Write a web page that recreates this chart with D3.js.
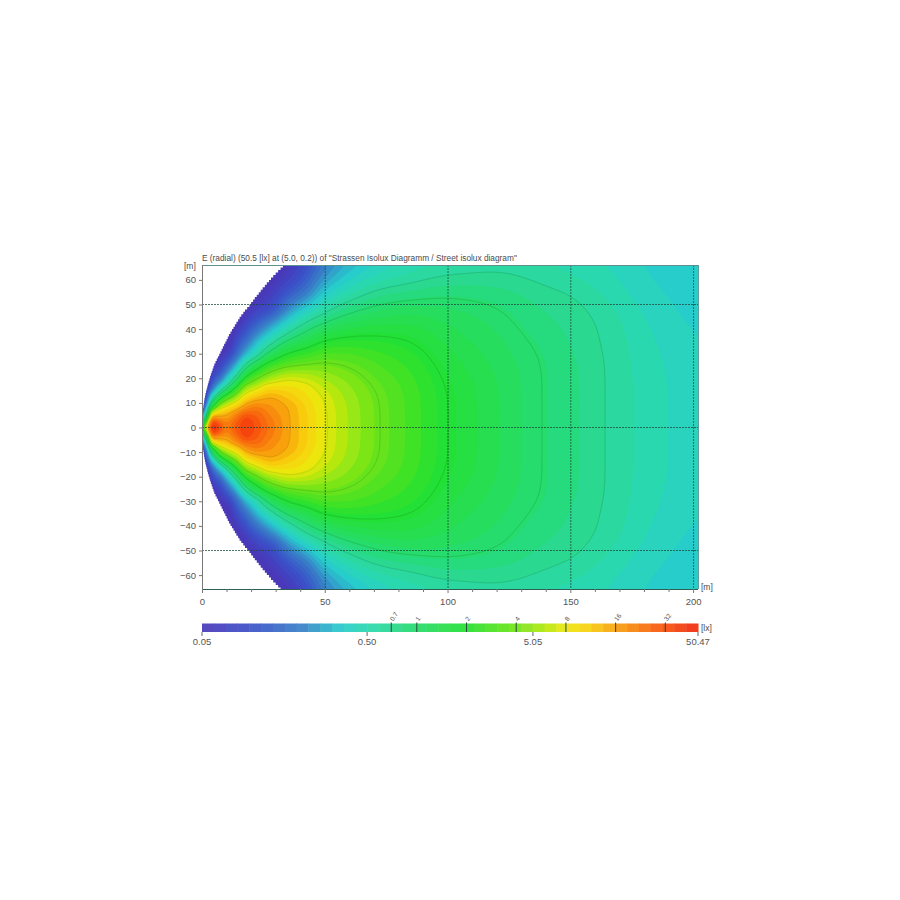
<!DOCTYPE html>
<html><head><meta charset="utf-8">
<script src="https://cdn.jsdelivr.net/npm/d3@7"></script>
<style>html,body{margin:0;background:#fff}svg{display:block}text{font-family:"Liberation Sans",Arial,sans-serif;fill:#4a4a4a}</style>
</head><body><svg id="c" width="900" height="900"></svg>
<script>
const titleText = 'E (radial) (50.5 [lx] at (5.0, 0.2)) of "Strassen Isolux Diagramm / Street isolux diagram"';
const xTicks = [0,50,100,150,200];
const xMinorTicks = [10,20,30,40,60,70,80,90,110,120,130,140,160,170,180,190];
const yTicks = [60,50,40,30,20,10,0,-10,-20,-30,-40,-50,-60];
const gridX = [50,100,150,200];
const gridY = [50,0,-50];
const barLabels = [0.05,0.50,5.05,50.47];
const isoLevels = [0.7,1,2,4,8,16];
const isoBarLevels = [0.7,1,2,4,8,16,32];
const colorLux = [0.05,0.1,0.2,0.35,0.5,0.7,1,2,4,5.5,8,11,16,32,50.47];
const colorHex = ['#4a38b8','#3a50c8','#3880c8','#28cccc','#2ad8b0','#2ad890','#26dc68','#24e030','#70e418','#a8e810','#ece810','#f8d010','#f8a010','#f85010','#ee2808'];

// lit-area edge: first lit distance (m), one value per metre of |y| from 0
const edgeX = [0,0,0,0,0,.1,.2,.3,.4,.55,.7,.85,1,1.2,1.4,1.65,1.9,2.15,2.4,2.7,3,3.3,3.6,3.95,4.3,4.65,5,5.5,6,6.5,7,7.5,8,8.5,9,9.5,10,10.5,11,11.6,12.2,12.8,13.4,14,14.7,15.3,16,16.8,17.5,18.4,19.3,20,20.8,21.5,22.3,23.1,23.9,24.7,25.6,26.4,27.3,28.1,29,30,31,32,33];

// illuminance [lx], one list per distance, values at |y| = stationsY
const stationsY = [0,2,4,6,9,12,16,20,25,30,36,42,48,54,60,66];
const stationsX = [0,2,4,5,7,10,14,18,22,28,36,43,50,60,72,85,100,120,138,150,165,180,202];
const luxByX = [
[1.5,.7,.3,.15,.06,.04,.03,.03,.03,.03,.03,.03,.03,.03,.03,.03],
[12,5,1.5,.7,.3,.15,.07,.04,.03,.03,.03,.03,.03,.03,.03,.03],
[45,35,18,8,1.4,.6,.18,.09,.05,.03,.03,.03,.03,.03,.03,.03],
[50,40,20,9.5,2,.8,.25,.12,.06,.035,.03,.03,.03,.03,.03,.03],
[38,30,18,12,4.6,1.6,.45,.17,.08,.05,.03,.03,.03,.03,.03,.03],
[24,22,18,14,7.5,3.2,.9,.36,.15,.07,.035,.03,.03,.03,.03,.03],
[33,31,26,20,11,6,2.3,.9,.35,.16,.09,.05,.03,.03,.03,.03],
[42,41,37,28,17.5,11,5.5,2.3,.85,.33,.16,.09,.05,.03,.03,.03],
[35,34,32,28,21,14,7.5,3.7,1.5,.56,.28,.14,.075,.045,.03,.03],
[25,24,23,21,19,16.5,11,6,2.8,1.2,.52,.25,.11,.07,.05,.03],
[16,16,16,16,15.5,13,10.5,7.8,4,2.15,1,.5,.26,.14,.085,.06],
[11.5,11.5,11.5,11.5,11,10,9.3,7.2,4.3,2.6,1.35,.8,.42,.22,.14,.1],
[8.3,8.3,8.3,8.3,8.2,8,7,5.8,4.5,3.2,1.95,1.05,.62,.42,.28,.2],
[5.8,5.8,5.8,5.8,5.8,5.6,5.3,4.8,4,3.1,2.2,1.4,.88,.58,.42,.3],
[4.05,4.05,4.05,4.05,4.03,4,3.9,3.5,3.1,2.7,2.15,1.6,1.1,.8,.56,.42],
[2.9,2.9,2.9,2.9,2.9,2.9,2.85,2.7,2.55,2.3,1.95,1.6,1.25,.88,.64,.52],
[2,2,2,2,2,2,1.97,1.9,1.8,1.65,1.5,1.35,1.17,.97,.75,.58],
[1.38,1.38,1.38,1.38,1.38,1.38,1.37,1.35,1.3,1.25,1.18,1.1,1.02,.9,.76,.63],
[1,1,1,1,1,1,1,1,1,.98,.93,.87,.83,.76,.68,.59],
[.87,.87,.87,.87,.87,.87,.87,.87,.86,.84,.81,.79,.76,.705,.62,.54],
[.69,.69,.69,.69,.69,.69,.69,.69,.69,.685,.67,.665,.625,.57,.53,.49],
[.56,.56,.56,.56,.56,.56,.56,.555,.55,.54,.53,.51,.49,.465,.44,.42],
[.44,.44,.44,.44,.44,.44,.44,.44,.435,.43,.42,.41,.39,.38,.365,.35]
];

const svg = d3.select('#c');
const x = d3.scaleLinear().domain([0,202]).range([202,698]);
const y = d3.scaleLinear().domain([-65.65,66.05]).range([589,265]);
const barX = d3.scaleLog().domain([0.05,50.47]).range([202,698]);
const colour = d3.scaleLog().domain(colorLux).range(colorHex).interpolate(d3.interpolateRgb);

// smooth resampling of the read values for contouring
function monotone(xs, ys){
  const n = xs.length, h = [], s = [], m = new Array(n);
  for(let i=0;i<n-1;i++){ h[i]=xs[i+1]-xs[i]; s[i]=(ys[i+1]-ys[i])/h[i]; }
  m[0]=s[0]; m[n-1]=s[n-2];
  for(let i=1;i<n-1;i++){
    m[i] = s[i-1]*s[i]<=0 ? 0 : 3*(h[i-1]+h[i])/((2*h[i]+h[i-1])/s[i-1]+(h[i]+2*h[i-1])/s[i]);
  }
  const bis = d3.bisector(d=>d).right;
  return t=>{
    let i = Math.max(0,Math.min(n-2,bis(xs,t)-1));
    const u=Math.max(0,Math.min(1,(t-xs[i])/h[i])), u2=u*u, u3=u2*u;
    return (2*u3-3*u2+1)*ys[i]+(u3-2*u2+u)*h[i]*m[i]+(-2*u3+3*u2)*ys[i+1]+(u3-u2)*h[i]*m[i+1];
  };
}
const step = .5, fx0 = -2, fy0 = -68;
const fxs = d3.range(0,413).map(i=>fx0+i*step);
const fys = d3.range(0,273).map(i=>fy0+i*step);
const W = fxs.length, H = fys.length;
const signedY = [...stationsY.slice(1).reverse().map(v=>-v), ...stationsY];
const colFns = luxByX.map(c=>{
  const half = c.map(v=>Math.log2(v));
  return monotone(signedY,[...half.slice(1).reverse(),...half]);
});
const raw = new Float64Array(W*H);
fys.forEach((fy,j)=>{
  const f = monotone(stationsX,colFns.map(g=>g(Math.max(-66,Math.min(66,fy)))));
  fxs.forEach((fx,i)=>{ raw[j*W+i]=f(Math.max(0,Math.min(202,fx))); });
});
// wider smoothing in the far field, almost none around the two peaks
const near = Float64Array.from(raw), far = Float64Array.from(raw);
d3.blur2({data:near,width:W,height:H},1);
d3.blur2({data:far,width:W,height:H},8);
const field = new Array(W*H);
const blend = d3.scaleLinear().domain([22,60]).range([0,1]).clamp(true);
fys.forEach((fy,j)=>fxs.forEach((fx,i)=>{
  const k=j*W+i, w=blend(fx); field[k]=near[k]*(1-w)+far[k]*w;
}));
const contour = d3.contours().size([W,H]).smooth(true);
const ringLine = d3.line().x(p=>x(fx0+(p[0]-.5)*step)).y(p=>y(fy0+(p[1]-.5)*step));
const pathOf = g => g.coordinates.map(poly=>poly.map(r=>ringLine(r)+'Z').join('')).join('');

const defs = svg.append('defs');
const edgePts = [[202,-66.5],
  ...edgeX.slice().reverse().map((v,i)=>[v,-(edgeX.length-1-i)]),
  ...edgeX.slice(1).map((v,i)=>[v,i+1]),
  [202,66.5]];
defs.append('clipPath').attr('id','lit').append('path')
  .attr('d', d3.line().x(p=>x(p[0])).y(p=>y(p[1])).curve(d3.curveStepAfter)(edgePts)+'Z');
defs.append('clipPath').attr('id','plot').append('rect')
  .attr('x',x(0)).attr('y',265).attr('width',x(202)-x(0)).attr('height',324);
defs.append('filter').attr('id','soft').attr('x',0).attr('y',0).attr('width',1).attr('height',1)
  .append('feGaussianBlur').attr('stdDeviation',.45);

const nBands = 42;
const bandLux = d3.range(nBands).map(i=>0.05*Math.pow(50.47/0.05,i/nBands));
const plot = svg.append('g').attr('clip-path','url(#plot)').append('g').attr('clip-path','url(#lit)');
const fieldG = plot.append('g').attr('filter','url(#soft)');
fieldG.append('rect').attr('x',x(0)).attr('y',265).attr('width',x(202)-x(0)).attr('height',324).attr('fill',colour(0.05));
bandLux.slice(1).forEach(t=>{
  fieldG.append('path').attr('d',pathOf(contour.contour(field,Math.log2(t))))
    .attr('fill',colour(t)).attr('fill-rule','evenodd');
});
isoLevels.forEach(t=>{
  plot.append('path').attr('d',pathOf(contour.contour(field,Math.log2(t))))
    .attr('fill','none').attr('stroke',d3.color(colour(t)).darker(.9).formatHex())
    .attr('stroke-opacity',t>=8?.3:.42).attr('stroke-width',1);
});

// grid
const gridCol = '#1a4a38';
svg.selectAll('.gx').data(gridX).join('line').attr('x1',d=>x(d)+.5).attr('x2',d=>x(d)+.5).attr('y1',265).attr('y2',589)
  .attr('stroke',gridCol).attr('stroke-dasharray','2 1').attr('stroke-width',1).attr('opacity',.75);
svg.selectAll('.gy').data(gridY).join('line').attr('x1',202).attr('x2',698).attr('y1',d=>Math.round(y(d))+.5).attr('y2',d=>Math.round(y(d))+.5)
  .attr('stroke',gridCol).attr('stroke-dasharray','2 1').attr('stroke-width',1).attr('opacity',.75);

// frame
svg.append('line').attr('x1',202).attr('x2',698).attr('y1',265.5).attr('y2',265.5).attr('stroke','#5f8f8f');
svg.append('line').attr('x1',698.5).attr('x2',698.5).attr('y1',265).attr('y2',589).attr('stroke','#5f9f9f');
svg.append('line').attr('x1',202.5).attr('x2',202.5).attr('y1',265).attr('y2',589).attr('stroke','#777');
svg.append('line').attr('x1',202).attr('x2',698).attr('y1',589.5).attr('y2',589.5).attr('stroke','#2c5f55');

// axes
const ax = svg.append('g').attr('transform','translate(0,589)')
  .call(d3.axisBottom(x).tickValues(xTicks).tickSize(4).tickPadding(5));
ax.select('.domain').remove();
ax.selectAll('line').attr('stroke','#777');
ax.selectAll('text').attr('font-size',9.5).style('fill','#555').attr('font-family','"Liberation Sans"');
svg.selectAll('.mx').data(xMinorTicks).join('line').attr('x1',d=>x(d)+.5).attr('x2',d=>x(d)+.5).attr('y1',589).attr('y2',592).attr('stroke','#777');
const ay = svg.append('g').attr('transform','translate(202,0)')
  .call(d3.axisLeft(y).tickValues(yTicks).tickSize(3).tickPadding(3));
ay.select('.domain').remove();
ay.selectAll('line').attr('stroke','#777');
ay.selectAll('text').attr('font-size',9.5).style('fill','#555').attr('font-family','"Liberation Sans"');

svg.append('text').attr('x',202).attr('y',261).attr('font-size',8.3).text(titleText);
svg.append('text').attr('x',184).attr('y',269).attr('font-size',8.5).text('[m]');
svg.append('text').attr('x',701).attr('y',590).attr('font-size',8.5).text('[m]');
svg.append('text').attr('x',701).attr('y',631).attr('font-size',8.5).text('[lx]');

// colour bar
const barTop = 623.5, barH = 8.5;
const barG = svg.append('g').attr('filter','url(#soft)').attr('opacity',.92);
barG.selectAll('rect').data(bandLux).join('rect')
  .attr('x',d=>barX(d)).attr('y',barTop).attr('height',barH)
  .attr('width',(d,i)=>(i<nBands-1?barX(bandLux[i+1]):698)-barX(d)+.5)
  .attr('fill',d=>colour(d*1.09));
svg.selectAll('.bt').data(barLabels).join('line')
  .attr('x1',d=>barX(d)).attr('x2',d=>barX(d)).attr('y1',barTop+barH).attr('y2',barTop+barH+4).attr('stroke','#666');
svg.selectAll('.bl').data(barLabels).join('text')
  .attr('x',d=>barX(d)).attr('y',645).attr('text-anchor','middle').attr('font-size',9.5).style('fill','#555').text(d=>d.toFixed(2));
svg.selectAll('.it').data(isoBarLevels).join('line')
  .attr('x1',d=>barX(d)).attr('x2',d=>barX(d)).attr('y1',barTop-1).attr('y2',barTop+barH)
  .attr('stroke','#2a4a40').attr('stroke-width',1);
svg.selectAll('.il').data(isoBarLevels).join('text')
  .attr('transform',d=>`translate(${barX(d)+2},${barTop-2}) rotate(-55)`)
  .attr('font-size',6.5).text(d=>d);
</script></body></html>
